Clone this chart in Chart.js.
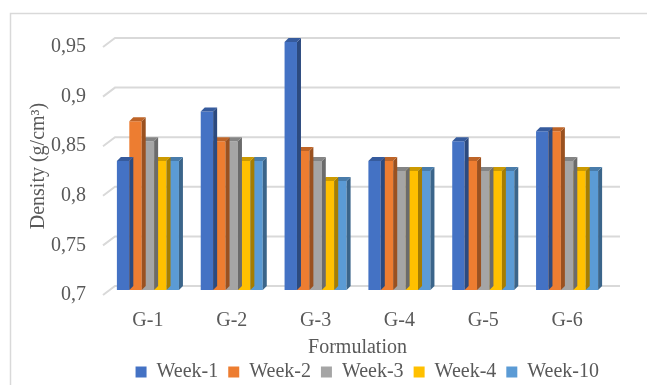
<!DOCTYPE html>
<html>
<head>
    <title>Density by Formulation</title>
    <script src="https://cdn.jsdelivr.net/npm/chart.js"></script>
    <style>
        body { margin: 0; background: #fff; }
    </style>
</head>
<body>
    <canvas id="densityChart" width="647" height="385"></canvas>

    <script>
        // data
        const formulations = ['G-1', 'G-2', 'G-3', 'G-4', 'G-5', 'G-6'];
        const week1 = [0.83, 0.88, 0.95, 0.83, 0.85, 0.86];
        const week2 = [0.87, 0.85, 0.84, 0.83, 0.83, 0.86];
        const week3 = [0.85, 0.85, 0.83, 0.82, 0.82, 0.83];
        const week4 = [0.83, 0.83, 0.81, 0.82, 0.82, 0.82];
        const week10 = [0.83, 0.83, 0.81, 0.82, 0.82, 0.82];
        const seriesNames = ['Week-1', 'Week-2', 'Week-3', 'Week-4', 'Week-10'];
        const seriesColors = ['#4472C4', '#ED7D31', '#A5A5A5', '#FFC000', '#5B9BD5'];

        const textColor = '#595959';
        const fontFamily = '"Liberation Serif", "Times New Roman", serif';

        // darken a hex colour
        function shade(hex, f) {
            const n = parseInt(hex.slice(1), 16);
            const r = Math.round(((n >> 16) & 255) * f);
            const g = Math.round(((n >> 8) & 255) * f);
            const b = Math.round((n & 255) * f);
            return `rgb(${r}, ${g}, ${b})`;
        }

        const depthX = 4, depthY = 4;

        // outer frame + 3D style gridlines (back wall + floor edge)
        const backdrop = {
            id: 'backdrop',
            beforeDraw(chart) {
                const ctx = chart.ctx;
                ctx.save();
                ctx.strokeStyle = '#d9d9d9';
                ctx.lineWidth = 1.5;
                ctx.beginPath();
                ctx.moveTo(10.5, 385);
                ctx.lineTo(10.5, 13.5);
                ctx.lineTo(647, 13.5);
                ctx.stroke();
                ctx.restore();
            },
            beforeDatasetsDraw(chart) {
                const ctx = chart.ctx;
                const yScale = chart.scales.y;
                const area = chart.chartArea;
                ctx.save();
                ctx.strokeStyle = '#d9d9d9';
                ctx.lineWidth = 2;
                yScale.ticks.forEach(t => {
                    const y = yScale.getPixelForValue(t.value);
                    ctx.beginPath();
                    ctx.moveTo(area.left - 3, y + 5);
                    ctx.lineTo(area.left + 9, y - 4);
                    ctx.lineTo(area.right + 11, y - 4);
                    ctx.stroke();
                });
                ctx.restore();
            }
        };

        // side and top faces of each column
        const bars3d = {
            id: 'bars3d',
            afterDatasetDraw(chart, args) {
                const ctx = chart.ctx;
                const meta = args.meta;
                const color = seriesColors[args.index];
                const bottom = chart.chartArea.bottom;
                ctx.save();
                meta.data.forEach(bar => {
                    const p = bar.getProps(['x', 'y', 'base', 'width'], true);
                    const l = p.x - p.width / 2;
                    const r = p.x + p.width / 2;
                    const base = Math.min(p.base, bottom);
                    // side
                    ctx.fillStyle = shade(color, 0.65);
                    ctx.beginPath();
                    ctx.moveTo(r, p.y);
                    ctx.lineTo(r + depthX, p.y - depthY);
                    ctx.lineTo(r + depthX, base - depthY);
                    ctx.lineTo(r, base);
                    ctx.closePath();
                    ctx.fill();
                    // top
                    ctx.fillStyle = shade(color, 0.8);
                    ctx.beginPath();
                    ctx.moveTo(l, p.y);
                    ctx.lineTo(l + depthX, p.y - depthY);
                    ctx.lineTo(r + depthX, p.y - depthY);
                    ctx.lineTo(r, p.y);
                    ctx.closePath();
                    ctx.fill();
                });
                ctx.restore();
            }
        };

        const allSeries = [week1, week2, week3, week4, week10];

        const ctx = document.getElementById('densityChart').getContext('2d');
        new Chart(ctx, {
            type: 'bar',
            data: {
                labels: formulations,
                datasets: allSeries.map((values, i) => ({
                    label: seriesNames[i],
                    data: values,
                    backgroundColor: seriesColors[i],
                    borderWidth: 0
                }))
            },
            options: {
                responsive: false,
                animation: false,
                datasets: {
                    bar: {
                        categoryPercentage: 0.74,
                        barPercentage: 1.0
                    }
                },
                layout: {
                    padding: { top: 42, right: 38, bottom: -7, left: 7 }
                },
                plugins: {
                    legend: {
                        position: 'bottom',
                        align: 'end',
                        labels: {
                            boxWidth: 11,
                            boxHeight: 11,
                            padding: 10,
                            color: textColor,
                            font: { family: fontFamily, size: 20 }
                        }
                    },
                    tooltip: { enabled: false }
                },
                scales: {
                    x: {
                        grid: { display: false, drawTicks: false },
                        border: { display: false },
                        ticks: {
                            color: textColor,
                            padding: 19,
                            font: { family: fontFamily, size: 20 }
                        },
                        title: {
                            display: true,
                            text: 'Formulation',
                            color: textColor,
                            padding: { top: -16, bottom: -8 },
                            font: { family: fontFamily, size: 20 }
                        }
                    },
                    y: {
                        min: 0.7,
                        max: 0.95,
                        grid: { display: false, drawTicks: false },
                        border: { display: false },
                        ticks: {
                            stepSize: 0.05,
                            color: textColor,
                            padding: 20,
                            labelOffset: 5,
                            font: { family: fontFamily, size: 20 },
                            callback: v => Number(v.toFixed(2)).toString().replace('.', ',')
                        },
                        title: {
                            display: true,
                            text: 'Density (g/cm³)',
                            color: textColor,
                            padding: { top: 20, bottom: -20 },
                            font: { family: fontFamily, size: 20 }
                        }
                    }
                }
            },
            plugins: [backdrop, bars3d]
        });
    </script>
</body>
</html>
